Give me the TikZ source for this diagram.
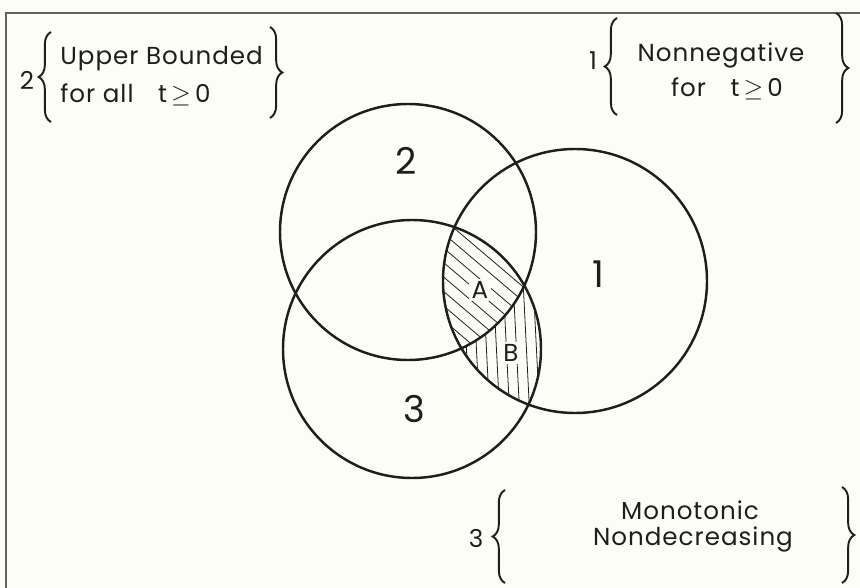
\documentclass[tikz,border=0pt]{standalone}
\usepackage{fontspec}
\setmainfont{Poppins}[LetterSpace=4]
\usepackage{tikz}
\usetikzlibrary{calc, decorations.pathreplacing}

\definecolor{carta}{RGB}{253,253,248}
\definecolor{inchiostro}{RGB}{30,30,30}

\begin{document}
\begin{tikzpicture}[x=0.02cm, y=-0.02cm,
    cerchio/.style={draw=inchiostro, line width=1.4pt},
    righe/.style={draw=inchiostro, line width=0.45pt},
    graffa/.style={draw=inchiostro, line width=1.1pt, decorate, decoration={brace, amplitude=7pt}},
    scritta/.style={text=inchiostro, font=\fontsize{14}{16}\selectfont, inner sep=0pt},
    numero/.style={text=inchiostro, font=\fontsize{21}{24}\selectfont, inner sep=0pt},
    lettera/.style={text=inchiostro, font=\fontsize{14}{16}\selectfont, fill=carta, inner sep=1.5pt}]

    % sfondo e cornice
    \useasboundingbox (0,0) rectangle (860,588);
    \fill[carta] (0,0) rectangle (860,588);
    \draw[line width=0.8pt, inchiostro!70] (6,600) -- (6,13) -- (870,13);

    % centri
    \coordinate (C1) at (575,281);
    \coordinate (C2) at (408,232);
    \coordinate (C3) at (412,349);

    % tratteggio A (dentro 1, 2 e 3)
    \begin{scope}
        \clip (C1) circle (132);
        \clip (C2) circle (128);
        \clip (C3) circle (129);
        \foreach \c in {200,217,...,600}
            \draw[righe] (\c,200) -- ++(200,170);
    \end{scope}

    % tratteggio B (dentro 1 e 3, fuori da 2)
    \begin{scope}[even odd rule]
        \clip (C1) circle (132);
        \clip (C3) circle (129);
        \clip (C2) circle (128) (0,0) rectangle (860,588);
        \foreach \c in {430,440,...,560}
            \draw[righe] (\c,220) -- (\c+10,420);
    \end{scope}

    % cerchi
    \draw[cerchio] (C1) circle (132);
    \draw[cerchio] (C2) circle (128);
    \draw[cerchio] (C3) circle (129);

    % etichette
    \node[numero] (n1) at (598,274) {1};
    \node[numero] (n2) at (406,161) {2};
    \node[numero] (n3) at (414,409) {3};
    \node[lettera] (lA) at (480,290) {A};
    \node[lettera] (lB) at (511,353) {B};

    % legenda 2
    \node[scritta] (k2) at (27,80) {2};
    \node[scritta, anchor=base west] (t2a) at (60,65) {Upper Bounded};
    \node[scritta, anchor=base west] (t2b) at (60,103) {for all\quad t\,$\geq$\,0};
    \coordinate (g2a) at (51,122);
    \coordinate (g2b) at (51,32);
    \coordinate (g2c) at (270,27);
    \coordinate (g2d) at (270,118);
    \draw[graffa] (g2a) -- (g2b);
    \draw[graffa] (g2c) -- (g2d);

    % legenda 1
    \node[scritta] (k1) at (593,61) {1};
    \node[scritta, anchor=base] (t1a) at (721,62) {Nonnegative};
    \node[scritta, anchor=base] (t1b) at (727,97) {for\quad t\,$\geq$\,0};
    \coordinate (g1a) at (617,115);
    \coordinate (g1b) at (617,18);
    \coordinate (g1c) at (836,13);
    \coordinate (g1d) at (836,123);
    \draw[graffa] (g1a) -- (g1b);
    \draw[graffa] (g1c) -- (g1d);

    % legenda 3
    \node[scritta] (k3) at (476,538) {3};
    \node[scritta, anchor=base] (t3a) at (690,520) {Monotonic};
    \node[scritta, anchor=base] (t3b) at (693,545) {Nondecreasing};
    \coordinate (g3a) at (505,583);
    \coordinate (g3b) at (505,490);
    \coordinate (g3c) at (842,487);
    \coordinate (g3d) at (842,583);
    \draw[graffa] (g3a) -- (g3b);
    \draw[graffa] (g3c) -- (g3d);
\end{tikzpicture}
\end{document}
